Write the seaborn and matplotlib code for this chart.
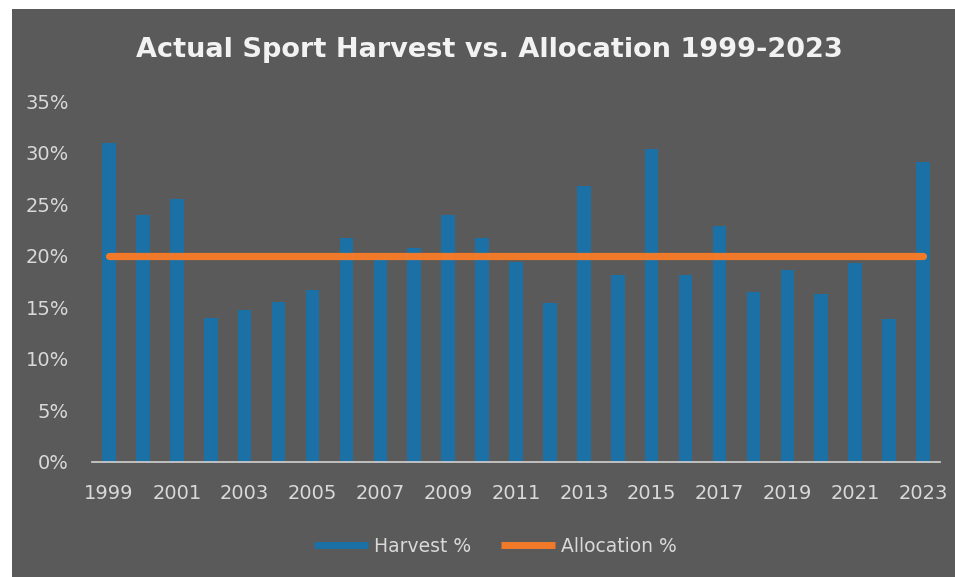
import numpy as np
import pandas as pd
import matplotlib
matplotlib.use("Agg")
import matplotlib.pyplot as plt
from matplotlib.patches import Rectangle
from matplotlib.lines import Line2D
from matplotlib.ticker import PercentFormatter
import seaborn as sns

years = list(range(1999, 2024))
harvest_pct = [0.310, 0.240, 0.255, 0.140, 0.147, 0.155, 0.167, 0.217, 0.196, 0.208,
               0.240, 0.217, 0.194, 0.154, 0.268, 0.181, 0.304, 0.181, 0.229, 0.165,
               0.186, 0.163, 0.193, 0.139, 0.291]
allocation_pct = [0.20] * len(years)
y_ticks = [0.00, 0.05, 0.10, 0.15, 0.20, 0.25, 0.30, 0.35]

df = pd.DataFrame({"Year": [str(y) for y in years],
                   "Harvest": harvest_pct,
                   "Allocation": allocation_pct})

BG = "#5a5a5a"
TXT = "#d9d9d9"
BLUE = "#1b70a6"
ORANGE = "#f07a2a"

sns.set_theme(style="white")
plt.rcParams["font.family"] = ["DejaVu Sans"]

W, H = 955, 577
fig = plt.figure(figsize=(W / 100, H / 100), dpi=100, facecolor="white")
fig.patches.append(Rectangle((12 / W, 0), 1 - 12 / W, 1 - 9 / H,
                             transform=fig.transFigure, facecolor=BG,
                             edgecolor="none", zorder=-10))

left, right, top, bottom = 92, 940, 101.5, 461.5
ax = fig.add_axes([left / W, 1 - bottom / H, (right - left) / W, (bottom - top) / H])
ax.set_zorder(1)
ax.set_facecolor("none")

sns.barplot(data=df, x="Year", y="Harvest", color=BLUE, width=0.4,
            saturation=1, linewidth=0, edgecolor="none", ax=ax, zorder=2)
pos = np.arange(len(years))
ax.plot(pos, df["Allocation"], color=ORANGE, lw=5.2,
        solid_capstyle="round", zorder=3)

ax.set_ylim(0, 0.35)
ax.set_xlim(-0.5, len(years) - 0.5)
ax.set_yticks(y_ticks)
ax.yaxis.set_major_formatter(PercentFormatter(1.0, decimals=0))
ax.set_xticks(pos[::2])
ax.set_xticklabels([str(y) for y in years[::2]])
ax.set_xlabel("")
ax.set_ylabel("")
ax.tick_params(axis="both", length=0, colors=TXT, labelsize=14, pad=16.5)

for s in ["top", "right", "left"]:
    ax.spines[s].set_visible(False)
ax.spines["bottom"].set_color("#c8c8c8")
ax.spines["bottom"].set_linewidth(1.3)
ax.spines["bottom"].set_zorder(4)

fig.text(489 / W, 1 - 50 / H, "Actual Sport Harvest vs. Allocation 1999-2023",
         ha="center", va="center", color="#f2f2f2", fontsize=19.5,
         fontweight="bold")

handles = [Line2D([], [], color=BLUE, lw=5, solid_capstyle="butt"),
           Line2D([], [], color=ORANGE, lw=5, solid_capstyle="butt")]
leg = fig.legend(handles, ["Harvest %", "Allocation %"], loc="center",
                 bbox_to_anchor=(495 / W, 1 - 546 / H), ncol=2, frameon=False,
                 fontsize=13.5, handlelength=2.9, handletextpad=0.3,
                 columnspacing=1.6)
for t in leg.get_texts():
    t.set_color(TXT)

fig.savefig("out.png", dpi=100, facecolor="white")
